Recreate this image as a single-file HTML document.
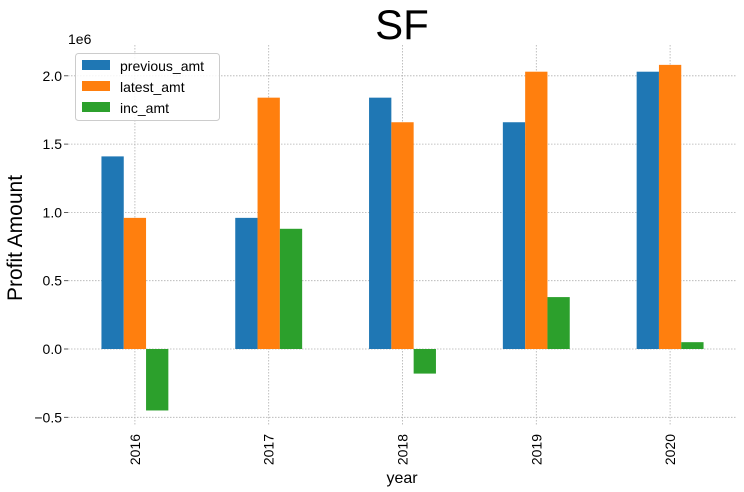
<!DOCTYPE html>
<html><head><meta charset="utf-8"><style>
body{margin:0;background:#fff;}
svg{display:block;font-family:"Liberation Sans","DejaVu Sans",sans-serif;}
</style></head><body>
<svg id="chart" width="744" height="492">
<g id="grid"></g><g id="bars"></g><g id="axes"></g>
<text x="402" y="39" text-anchor="middle" font-size="42">SF</text>
<text x="68" y="44" font-size="14">1e6</text>
<text transform="translate(22,238) rotate(-90)" text-anchor="middle" font-size="21">Profit Amount</text>
<text x="402" y="483" text-anchor="middle" font-size="16">year</text>
<g>
<rect x="75.5" y="53.5" width="144" height="67" rx="3" fill="#fff" fill-opacity="0.85" stroke="#ccc"/>
<rect x="82" y="60" width="28" height="10" fill="#1f77b4"/>
<text x="120" y="71" font-size="14">previous_amt</text>
<rect x="82" y="81" width="28" height="10" fill="#ff7f0e"/>
<text x="120" y="92" font-size="14">latest_amt</text>
<rect x="82" y="102" width="28" height="10" fill="#2ca02c"/>
<text x="120" y="113" font-size="14">inc_amt</text>
</g>
</svg>
<script>
const categories = ["2016","2017","2018","2019","2020"];
const previousAmt = [1.41, 0.96, 1.84, 1.66, 2.03];
const latestAmt = [0.96, 1.84, 1.66, 2.03, 2.08];
const incAmt = [-0.45, 0.88, -0.18, 0.38, 0.05];
const yTicks = [-0.5, 0.0, 0.5, 1.0, 1.5, 2.0];
const yTickLabels = ["\u22120.5","0.0","0.5","1.0","1.5","2.0"];

const NS="http://www.w3.org/2000/svg";
const plotLeft=68,plotRight=737,plotTop=45,plotBottom=425;
const yScale=v=>349-v*136.6;
const step=(plotRight-plotLeft)/categories.length;
const xc=i=>plotLeft+step*(i+0.5);
const bw=step*0.5/3;
function mk(tag,attrs,parent,txt){const e=document.createElementNS(NS,tag);for(const k in attrs)e.setAttribute(k,attrs[k]);if(txt!==undefined)e.textContent=txt;document.getElementById(parent).appendChild(e);return e;}
yTicks.forEach((t,i)=>{
 const g=mk("line",{x1:plotLeft,x2:plotRight,y1:yScale(t),y2:yScale(t),stroke:"#b0b0b0","stroke-width":0.8,"stroke-dasharray":"1.5,1.5"},"grid");
 
 
 const tk=mk("line",{x1:plotLeft-4,x2:plotLeft,y1:yScale(t),y2:yScale(t),stroke:"#333","stroke-width":0.8},"axes");
 
 
 const l=mk("text",{x:plotLeft-6,y:yScale(t)+5,"text-anchor":"end","font-size":14,fill:"#000"},"axes",yTickLabels[i]);
 
 
});
categories.forEach((c,i)=>{
 const g=mk("line",{x1:xc(i),x2:xc(i),y1:plotTop,y2:plotBottom,stroke:"#b0b0b0","stroke-width":0.8,"stroke-dasharray":"1.5,1.5"},"grid");
 
 
 const l=mk("text",{transform:`translate(${xc(i)+5},434) rotate(-90)`,"text-anchor":"end","font-size":14,fill:"#000"},"axes",c);
 
 
});
const series=[[previousAmt,"#1f77b4","previous"],[latestAmt,"#ff7f0e","latest"],[incAmt,"#2ca02c","inc"]];
series.forEach(([vals,col,nm],s)=>{
 vals.forEach((v,i)=>{
  const x0=xc(i)-1.5*bw+s*bw;
  const r=mk("rect",{x:x0,y:Math.min(yScale(v),yScale(0)),width:bw,height:Math.abs(yScale(v)-yScale(0)),fill:col},"bars");
  
  
 });
});
</script>
</body></html>
